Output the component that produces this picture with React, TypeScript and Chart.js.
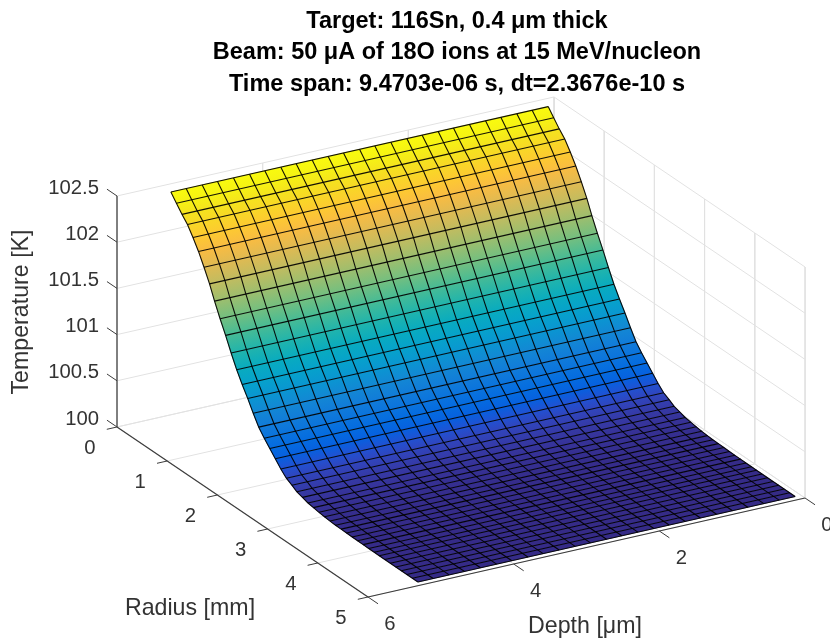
import React, { useEffect, useRef } from "react";
import { Chart, registerables } from "chart.js";

Chart.register(...registerables);

// ---- values ----
const radiusValues = [0, 0.11, 0.22, 0.33, 0.44, 0.55, 0.66, 0.77, 0.87, 0.98, 1.09, 1.2, 1.31, 1.42, 1.53, 1.64, 1.75, 1.86, 1.97, 2.08, 2.19, 2.3, 2.41, 2.51, 2.62, 2.73, 2.84, 2.95, 3.06, 3.17, 3.28, 3.39, 3.5, 3.61, 3.72, 3.83, 3.94, 4.05, 4.15, 4.26, 4.37, 4.48, 4.59, 4.7, 4.81, 4.92];
const depthValues = [0.08, 0.3, 0.51, 0.73, 0.94, 1.16, 1.38, 1.59, 1.81, 2.02, 2.24, 2.46, 2.67, 2.89, 3.1, 3.32, 3.54, 3.75, 3.97, 4.18, 4.4, 4.62, 4.83, 5.05, 5.26];
const temperatureByRadius = [102.41, 102.33, 102.25, 102.18, 102.08, 101.97, 101.84, 101.7, 101.55, 101.4, 101.26, 101.11, 100.97, 100.85, 100.74, 100.62, 100.51, 100.43, 100.36, 100.29, 100.22, 100.16, 100.125, 100.09, 100.07, 100.05, 100.04, 100.03, 100.022, 100.016, 100.012, 100.01, 100.008, 100.006, 100.005, 100.004, 100.003, 100.003, 100.002, 100.002, 100.002, 100.001, 100.001, 100.001, 100.001, 100.001];

const temperatureTicks = [100, 100.5, 101, 101.5, 102, 102.5];
const temperatureTickLabels = ["100", "100.5", "101", "101.5", "102", "102.5"];
const radiusTicks = [0, 1, 2, 3, 4, 5];
const depthTicks = [0, 2, 4, 6];

const titleLines = [
  "Target: 116Sn, 0.4 μm thick",
  "Beam: 50 μA of 18O ions at 15 MeV/nucleon",
  "Time span: 9.4703e-06 s, dt=2.3676e-10 s",
];
const radiusTitle = "Radius [mm]";
const depthTitle = "Depth [μm]";
const temperatureTitle = "Temperature [K]";

const parula = [
  [0.2081, 0.1663, 0.5292], [0.2123, 0.2138, 0.627], [0.1959, 0.2645, 0.7279], [0.1253, 0.3242, 0.8303],
  [0.0117, 0.3875, 0.882], [0.0165, 0.4266, 0.8786], [0.0498, 0.4586, 0.8641], [0.0723, 0.4887, 0.8467],
  [0.0793, 0.52, 0.8312], [0.0641, 0.557, 0.824], [0.0343, 0.5966, 0.8199], [0.0239, 0.6287, 0.8038],
  [0.0228, 0.6535, 0.7768], [0.0384, 0.6743, 0.7436], [0.0843, 0.6928, 0.7062], [0.1453, 0.7098, 0.6646],
  [0.2178, 0.725, 0.6193], [0.3022, 0.7376, 0.5712], [0.3953, 0.7459, 0.5244], [0.4871, 0.7491, 0.484],
  [0.5709, 0.7485, 0.4494], [0.6473, 0.7456, 0.4188], [0.7184, 0.7411, 0.3905], [0.7858, 0.7356, 0.3633],
  [0.8507, 0.7299, 0.336], [0.9139, 0.7258, 0.3063], [0.9739, 0.7314, 0.2666], [0.999, 0.7653, 0.2164],
  [0.988, 0.8066, 0.1794], [0.9697, 0.8481, 0.1475], [0.9589, 0.8949, 0.1132], [0.9661, 0.9514, 0.0755],
  [0.9763, 0.9831, 0.0538],
];

// ---- view: orthographic projection of (radius, depth, temperature) ----
const project = (r: number, d: number, t: number) => ({
  x: 117 + (r / 5) * 251 + ((6 - d) / 6) * 437,
  y: 427 + (r / 5) * 170 - ((6 - d) / 6) * 99 - ((t - 100) / 2.5) * 231,
});

const colorOf = (t: number) => {
  const f = Math.max(0, Math.min(1, (t - 100) / 2.41)) * (parula.length - 1);
  const i = Math.min(parula.length - 2, Math.floor(f));
  const u = f - i;
  const c = parula[i].map((v, k) => Math.round(255 * (v + (parula[i + 1][k] - v) * u)));
  return `rgb(${c[0]},${c[1]},${c[2]})`;
};

const GRID = "#e2e2e2";
const AXIS = "#3c3c3c";
const TEXT = "#333333";
const EDGE = "rgba(0,0,0,0.92)";
const FONT = '"Liberation Sans", Arial, sans-serif';
const TOP = 100;
const LEFT = 84;

const line = (pts: { x: number; y: number }[], color: string, width: number, order: number) => ({
  type: "line",
  data: pts,
  borderColor: color,
  borderWidth: width,
  pointRadius: 0,
  tension: 0,
  fill: false,
  order,
  clip: false,
});

const buildDatasets = () => {
  const sets: any[] = [];
  const tMax = 102.5;
  const t0 = 100;
  // back walls and floor grid
  temperatureTicks.forEach((t) => {
    sets.push(line([project(0, 6, t), project(0, 0, t), project(5, 0, t)], GRID, 1, 5));
  });
  depthTicks.forEach((d) => {
    sets.push(line([project(0, d, tMax), project(0, d, t0), project(5, d, t0)], GRID, 1, 5));
  });
  radiusTicks.forEach((r) => {
    sets.push(line([project(r, 0, tMax), project(r, 0, t0), project(r, 6, t0)], GRID, 1, 5));
  });
  // surface strips, shaded between neighbouring radius rows
  const dA = depthValues[0];
  const dB = depthValues[depthValues.length - 1];
  for (let i = 0; i < radiusValues.length - 1; i++) {
    const r0 = radiusValues[i];
    const r1 = radiusValues[i + 1];
    const t0i = temperatureByRadius[i];
    const t1i = temperatureByRadius[i + 1];
    sets.push({
      type: "line",
      data: [project(r0, dA, t0i), project(r0, dB, t0i), project(r1, dB, t1i), project(r1, dA, t1i)],
      showLine: false,
      pointRadius: 0,
      order: 4,
      clip: false,
      stripColors: [colorOf(t0i), colorOf(t1i)],
    });
  }
  // mesh lines
  radiusValues.forEach((r, i) => {
    sets.push(line([project(r, dA, temperatureByRadius[i]), project(r, dB, temperatureByRadius[i])], EDGE, 1.1, 3));
  });
  depthValues.forEach((d) => {
    sets.push(line(radiusValues.map((r, i) => project(r, d, temperatureByRadius[i])), EDGE, 1.1, 3));
  });
  // axes
  sets.push(line([project(0, 6, t0), project(0, 6, tMax)], AXIS, 1.2, 2));
  sets.push(line([project(0, 6, t0), project(5, 6, t0)], AXIS, 1.2, 2));
  sets.push(line([project(5, 6, t0), project(5, 0, t0)], AXIS, 1.2, 2));
  temperatureTicks.forEach((t) => sets.push(line([project(0, 6, t), project(-0.2, 6, t)], AXIS, 1, 2)));
  radiusTicks.forEach((r) => sets.push(line([project(r, 6, t0), project(r, 6.14, t0)], AXIS, 1, 2)));
  depthTicks.forEach((d) => sets.push(line([project(5, d, t0), project(5.2, d, t0)], AXIS, 1, 2)));
  return sets;
};

const surfacePlugin = {
  id: "surfaceStrips",
  beforeDatasetDraw(chart: any, args: any) {
    const ds = chart.data.datasets[args.index];
    if (!ds.stripColors) return;
    const p = args.meta.data;
    const ctx = chart.ctx;
    const ax = p[1].x - p[0].x;
    const ay = p[1].y - p[0].y;
    const len2 = ax * ax + ay * ay;
    const bx = p[3].x - p[0].x;
    const by = p[3].y - p[0].y;
    const k = (bx * ax + by * ay) / len2;
    const g = ctx.createLinearGradient(p[0].x, p[0].y, p[0].x + bx - k * ax, p[0].y + by - k * ay);
    g.addColorStop(0, ds.stripColors[0]);
    g.addColorStop(1, ds.stripColors[1]);
    ctx.save();
    ctx.beginPath();
    p.forEach((e: any, i: number) => (i ? ctx.lineTo(e.x, e.y) : ctx.moveTo(e.x, e.y)));
    ctx.closePath();
    ctx.fillStyle = g;
    ctx.fill();
    ctx.strokeStyle = g;
    ctx.lineWidth = 0.6;
    ctx.stroke();
    ctx.restore();
  },
};

const labelPlugin = {
  id: "axisLabels",
  afterDraw(chart: any) {
    const { ctx, scales } = chart;
    const px = (q: { x: number; y: number }) => ({ x: scales.x.getPixelForValue(q.x), y: scales.y.getPixelForValue(q.y) });
    ctx.save();
    ctx.fillStyle = TEXT;
    ctx.font = `20.3px ${FONT}`;
    ctx.textBaseline = "middle";
    ctx.textAlign = "right";
    temperatureTicks.forEach((t, i) => {
      const a = px(project(0, 6, t));
      ctx.fillText(temperatureTickLabels[i], a.x - 18, a.y - 8);
    });
    ctx.textAlign = "center";
    radiusTicks.forEach((r) => {
      const a = px(project(r, 6, 100));
      ctx.fillText(String(r), a.x - 27, a.y + 21);
    });
    depthTicks.forEach((d) => {
      const a = px(project(5, d, 100));
      ctx.fillText(String(d), a.x + 22, a.y + 27);
    });
    ctx.font = `23.2px ${FONT}`;
    ctx.fillText(radiusTitle, 190, 609);
    ctx.fillText(depthTitle, 585, 627);
    ctx.translate(22, 312);
    ctx.rotate(-Math.PI / 2);
    ctx.fillText(temperatureTitle, 0, 0);
    ctx.restore();
  },
};

export default function App() {
  const ref = useRef<HTMLCanvasElement | null>(null);
  useEffect(() => {
    if (!ref.current) return;
    const chart = new Chart(ref.current, {
      type: "line",
      data: { datasets: buildDatasets() as any },
      options: {
        animation: false,
        responsive: false,
        devicePixelRatio: 1,
        layout: { padding: { left: LEFT, top: 0, right: 0, bottom: 0 } },
        scales: {
          x: { type: "linear", min: LEFT, max: 830, display: false },
          y: { type: "linear", min: TOP, max: 643, reverse: true, display: false },
        },
        plugins: {
          legend: { display: false },
          tooltip: { enabled: false },
          title: {
            display: true,
            text: titleLines,
            color: "#000",
            font: { family: FONT, size: 23.5, weight: "bold", lineHeight: 1.34 },
            padding: { top: 5.5, bottom: 0 },
          },
        },
      } as any,
      plugins: [surfacePlugin, labelPlugin] as any,
    });
    return () => chart.destroy();
  }, []);
  return (
    <div style={{ position: "fixed", left: 0, top: 0, width: 830, height: 643, background: "#fff" }}>
      <canvas ref={ref} width={830} height={643} style={{ display: "block" }} />
    </div>
  );
}
